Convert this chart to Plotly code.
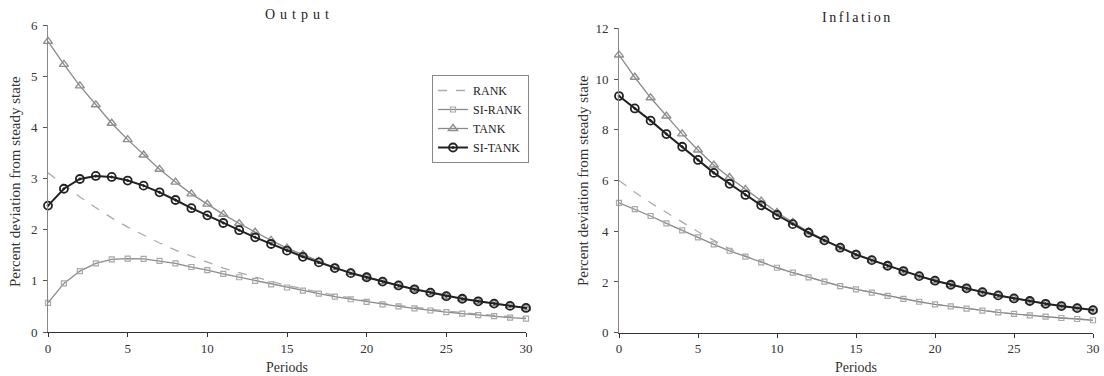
import plotly.graph_objects as go

periods = list(range(31))

# Output panel
out_rank = [3.11, 2.87, 2.64, 2.43, 2.23, 2.05, 1.89, 1.74, 1.60, 1.48, 1.36, 1.25, 1.16, 1.07, 0.99, 0.91,
            0.84, 0.78, 0.72, 0.66, 0.61, 0.56, 0.52, 0.48, 0.44, 0.41, 0.38, 0.35, 0.32, 0.30, 0.27]
out_si_rank = [0.57, 0.95, 1.19, 1.34, 1.42, 1.435, 1.43, 1.39, 1.34, 1.27, 1.21, 1.135, 1.07, 1.00, 0.93, 0.87,
               0.81, 0.75, 0.69, 0.64, 0.59, 0.54, 0.50, 0.46, 0.42, 0.39, 0.36, 0.33, 0.31, 0.28, 0.26]
out_tank = [5.68, 5.23, 4.81, 4.44, 4.08, 3.76, 3.46, 3.18, 2.93, 2.70, 2.50, 2.30, 2.12, 1.95, 1.79, 1.64,
            1.51, 1.38, 1.26, 1.16, 1.07, 0.985, 0.91, 0.835, 0.77, 0.70, 0.65, 0.60, 0.555, 0.51, 0.47]
out_si_tank = [2.47, 2.80, 2.99, 3.05, 3.03, 2.96, 2.86, 2.73, 2.58, 2.42, 2.28, 2.13, 1.99, 1.85, 1.72, 1.59,
               1.47, 1.36, 1.25, 1.15, 1.07, 0.985, 0.91, 0.835, 0.77, 0.70, 0.65, 0.60, 0.555, 0.51, 0.47]

# Inflation panel
inf_rank = [6.00, 5.54, 5.12, 4.73, 4.34, 3.98, 3.64, 3.31, 3.03, 2.79, 2.57, 2.37, 2.18, 2.01, 1.85, 1.71,
            1.58, 1.45, 1.33, 1.22, 1.12, 1.04, 0.95, 0.87, 0.80, 0.74, 0.68, 0.63, 0.58, 0.54, 0.49]
inf_si_rank = [5.12, 4.87, 4.60, 4.31, 4.03, 3.76, 3.48, 3.23, 3.00, 2.77, 2.56, 2.37, 2.18, 2.01, 1.84, 1.71,
               1.58, 1.45, 1.33, 1.22, 1.12, 1.04, 0.95, 0.87, 0.80, 0.74, 0.68, 0.63, 0.58, 0.54, 0.49]
inf_tank = [10.95, 10.07, 9.26, 8.54, 7.84, 7.20, 6.61, 6.12, 5.65, 5.19, 4.74, 4.35, 3.98, 3.66, 3.36, 3.10,
            2.86, 2.64, 2.43, 2.23, 2.05, 1.89, 1.75, 1.60, 1.47, 1.35, 1.25, 1.14, 1.05, 0.97, 0.89]
inf_si_tank = [9.33, 8.84, 8.36, 7.83, 7.33, 6.81, 6.30, 5.87, 5.43, 5.02, 4.64, 4.28, 3.94, 3.64, 3.35, 3.08,
               2.86, 2.64, 2.43, 2.23, 2.05, 1.89, 1.75, 1.60, 1.47, 1.35, 1.25, 1.14, 1.05, 0.97, 0.89]

series_names = ["RANK", "SI-RANK", "TANK", "SI-TANK"]
x_ticks = [0, 5, 10, 15, 20, 25, 30]
out_y_ticks = [0, 1, 2, 3, 4, 5, 6]
inf_y_ticks = [0, 2, 4, 6, 8, 10, 12]

FONT = "Liberation Serif"

styles = {
    "RANK": dict(mode="lines", line=dict(color="#aaaaaa", width=1.3, dash="dash")),
    "SI-RANK": dict(mode="lines+markers", line=dict(color="#8a8a8a", width=1.3),
                    marker=dict(symbol="square-open", size=5, color="#a8a8a8", line=dict(width=1.2))),
    "TANK": dict(mode="lines+markers", line=dict(color="#8a8a8a", width=1.3),
                 marker=dict(symbol="triangle-up-open", size=8, color="#8f8f8f", line=dict(width=1.4))),
    "SI-TANK": dict(mode="lines+markers", line=dict(color="#222222", width=2),
                    marker=dict(symbol="circle-open-dot", size=8, color="#222222", line=dict(width=1.8))),
}

fig = go.Figure()
out_data = [out_rank, out_si_rank, out_tank, out_si_tank]
inf_data = [inf_rank, inf_si_rank, inf_tank, inf_si_tank]
for name, ys in zip(series_names, out_data):
    fig.add_trace(go.Scatter(x=periods, y=ys, name=name, xaxis="x", yaxis="y",
                             cliponaxis=False, showlegend=True, **styles[name]))
for name, ys in zip(series_names, inf_data):
    fig.add_trace(go.Scatter(x=periods, y=ys, name=name, xaxis="x2", yaxis="y2",
                             cliponaxis=False, showlegend=False, **styles[name]))

W, H = 1104, 376

def px(xp):
    return xp / W

def py(yp):
    return 1 - yp / H

def ax_common():
    return dict(showgrid=False, zeroline=False, showline=True, ticks="outside", ticklen=4,
                tickwidth=1, tickfont=dict(family=FONT, size=13, color="#333"), automargin=False,
                fixedrange=True)

xcfg = ax_common(); xcfg.update(range=[0, 30], tickvals=x_ticks, linecolor="#333", tickcolor="#333")
ycfg = ax_common(); ycfg.update(range=[0, 6], tickvals=out_y_ticks, linecolor="#888", tickcolor="#555",
                                ticklabelstandoff=3)
x2cfg = ax_common(); x2cfg.update(range=[0, 30], tickvals=x_ticks, linecolor="#333", tickcolor="#333")
y2cfg = ax_common(); y2cfg.update(range=[0, 12], tickvals=inf_y_ticks, linecolor="#888", tickcolor="#555",
                                  ticklabelstandoff=3)

xcfg["domain"] = [px(48), px(526)]
ycfg["domain"] = [py(332), py(25)]
x2cfg["domain"] = [px(619), px(1093)]
y2cfg["domain"] = [py(332.7), py(28.3)]
xcfg["anchor"] = "y"; ycfg["anchor"] = "x"
x2cfg["anchor"] = "y2"; y2cfg["anchor"] = "x2"

def spaced(t, sp):
    return "<span style='letter-spacing:%spx'>" % sp + t + "</span>"

def note(text, xp, yp, size, color="#333", angle=0):
    return dict(text=text, x=px(xp), y=py(yp), xref="paper", yref="paper",
                xanchor="center", yanchor="middle", textangle=angle, showarrow=False,
                font=dict(family=FONT, size=size, color=color))

annots = [
    note(spaced("Output", 5), 299, 15, 14, "#222"),
    note(spaced("Inflation", 2.5), 857, 18, 14, "#222"),
    note("Periods", 287, 367, 14),
    note("Periods", 856, 367, 14),
    note("Percent deviation from steady state", 15, 182, 15, angle=-90),
    note("Percent deviation from steady state", 583, 181, 15, angle=-90),
]

fig.update_layout(
    width=W, height=H,
    margin=dict(l=0, r=0, t=0, b=0),
    paper_bgcolor="white", plot_bgcolor="white",
    xaxis=xcfg, yaxis=ycfg, xaxis2=x2cfg, yaxis2=y2cfg,
    annotations=annots,
    legend=dict(x=px(529), y=py(75), xanchor="right", yanchor="top",
                bordercolor="#888", borderwidth=1, bgcolor="white",
                font=dict(family=FONT, size=12, color="#222"), itemwidth=30,
                tracegroupgap=0),
    showlegend=True,
    hovermode=False,
)

fig.write_html("out.html", config={"displayModeBar": False, "staticPlot": True},
               post_script="document.body.style.margin='0';document.body.style.overflow='hidden';")
